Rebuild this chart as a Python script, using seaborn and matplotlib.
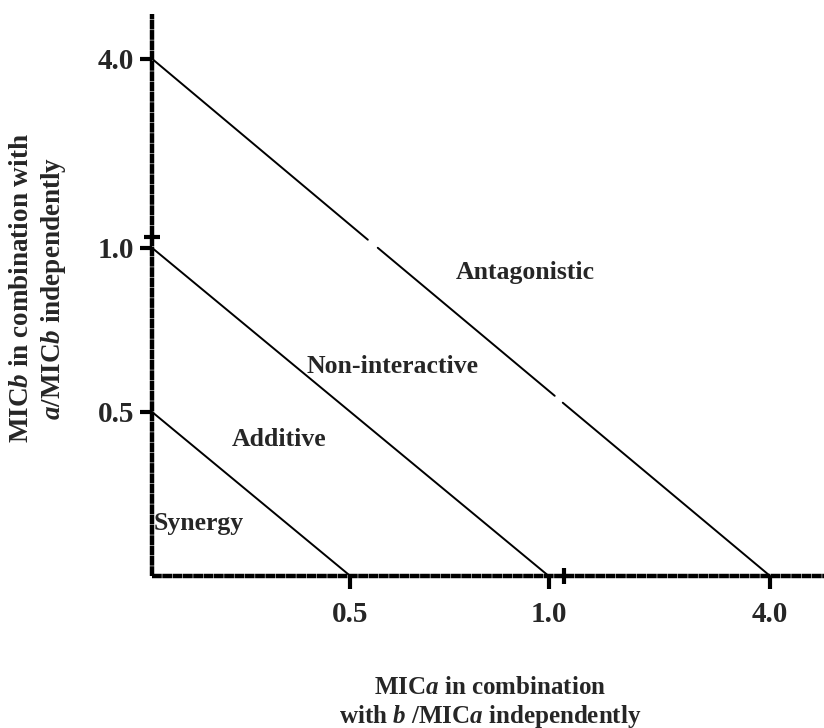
import numpy as np
import pandas as pd
import matplotlib
matplotlib.use("Agg")
import matplotlib.pyplot as plt
import seaborn as sns

# ---- data ----
tick_values = [0.5, 1.0, 4.0]
tick_labels = ["0.5", "1.0", "4.0"]
break_value_x = 1.2
break_value_y = 1.175

syn_x = [0.0, 0.5]
syn_y = [0.5, 0.0]
add_x = [0.0, 1.0]
add_y = [1.0, 0.0]
# antagonistic boundary, drawn in three pieces (gaps at the axis breaks)
ant_seg = [1, 1, 2, 2, 3, 3]
ant_x = [0.0, 0.544, 0.569, 1.081, 1.19, 4.0]
ant_y = [4.0, 1.128, 1.0, 0.549, 0.528, 0.0]

regions = ["Antagonistic", "Non-interactive", "Additive", "Synergy"]
region_x = [0.94, 0.605, 0.32, 0.003]
region_y = [0.924, 0.637, 0.415, 0.159]
region_ha = ["center", "center", "center", "left"]

xlabel_lines = [r"MIC$\mathit{a}$ in combination", r"with $\mathit{b}$ /MIC$\mathit{a}$ independently"]
ylabel_lines = [r"MIC$\mathit{b}$ in combination with", r"$\mathit{a}$/MIC$\mathit{b}$ independently"]

# ---- style ----
sns.set_theme(style="white")
plt.rcParams["font.family"] = ["Liberation Serif", "DejaVu Serif"]
plt.rcParams["font.weight"] = "bold"
plt.rcParams["mathtext.fontset"] = "custom"
plt.rcParams["mathtext.rm"] = "Liberation Serif:bold"
plt.rcParams["mathtext.it"] = "Liberation Serif:italic:bold"
plt.rcParams["mathtext.bf"] = "Liberation Serif:bold"

# broken-axis scale: linear up to 1, compressed above 1
def make_scale(k):
    def fwd(v):
        v = np.asarray(v, dtype=float)
        return np.where(v <= 1, v, 1 + (v - 1) * k)
    def inv(p):
        p = np.asarray(p, dtype=float)
        return np.where(p <= 1, p, 1 + (p - 1) / k)
    return fwd, inv

fig = plt.figure(figsize=(8.24, 7.28), dpi=100)
ax = fig.add_axes([152 / 824, (728 - 576) / 728, 1 - 152 / 824, (576 - 14) / 728])
ax.set_xscale("function", functions=make_scale(0.186))
ax.set_yscale("function", functions=make_scale(0.192))

df_syn = pd.DataFrame({"x": syn_x, "y": syn_y})
df_add = pd.DataFrame({"x": add_x, "y": add_y})
df_ant = pd.DataFrame({"x": ant_x, "y": ant_y, "seg": ant_seg})
lw = 1.4
sns.lineplot(data=df_syn, x="x", y="y", sort=False, color="black", lw=lw, ax=ax)
sns.lineplot(data=df_add, x="x", y="y", sort=False, color="black", lw=lw, ax=ax)
sns.lineplot(data=df_ant, x="x", y="y", units="seg", estimator=None, sort=False,
             color="black", lw=lw, ax=ax)

ax.set_xlim(0, 4.73)
ax.set_ylim(0, 4.71)

for t, xx, yy, ha in zip(regions, region_x, region_y, region_ha):
    ax.text(xx, yy, t, ha=ha, va="center", fontsize=18.5, fontweight="bold")

ax.set_xticks(tick_values)
ax.set_xticklabels(tick_labels)
ax.set_yticks(tick_values)
ax.set_yticklabels(tick_labels)
ax.set_xticks([break_value_x], minor=True)
ax.set_yticks([break_value_y], minor=True)
ax.tick_params(axis="both", which="major", direction="out", length=9, width=3,
               color="black", labelsize=21, bottom=True, left=True)
ax.tick_params(axis="x", which="major", pad=9)
ax.tick_params(axis="y", which="major", pad=4)
ax.tick_params(axis="both", which="minor", direction="inout", length=11, width=3,
               color="black", bottom=True, left=True)
for lab in ax.get_xticklabels() + ax.get_yticklabels():
    lab.set_fontweight("bold")

for s in ["top", "right"]:
    ax.spines[s].set_visible(False)
for s in ["left", "bottom"]:
    ax.spines[s].set_linewidth(3.2)
    ax.spines[s].set_color("black")
    ax.spines[s].set_linestyle((0, (2.2, 0.12)))
    ax.spines[s].set_capstyle("butt")

ax.set_xlabel("")
ax.set_ylabel("")
fig.text(490 / 824, 1 - 688 / 728, xlabel_lines[0], ha="center", va="center", fontsize=18)
fig.text(490 / 824, 1 - 716 / 728, xlabel_lines[1], ha="center", va="center", fontsize=18)
fig.text(22 / 824, 1 - 288 / 728, ylabel_lines[0], ha="center", va="center", fontsize=19.5, rotation=90)
fig.text(53 / 824, 1 - 288 / 728, ylabel_lines[1], ha="center", va="center", fontsize=19.5, rotation=90)

fig.savefig("out.png", dpi=100, facecolor="white")
